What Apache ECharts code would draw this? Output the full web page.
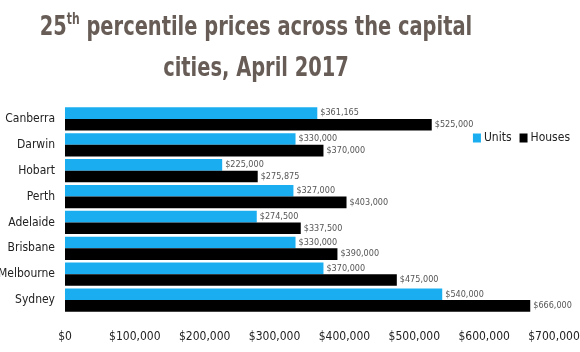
<!DOCTYPE html>
<html>
<head>
<meta charset="utf-8">
<script src="https://cdn.jsdelivr.net/npm/echarts@6/dist/echarts.min.js"></script>
<style>
  html, body { margin: 0; padding: 0; background: #fff; }
  #chart { width: 580px; height: 352px; }
</style>
</head>
<body>
<div id="chart"></div>
<script>
  // data (Sydney at the bottom)
  var cities = ['Sydney', 'Melbourne', 'Brisbane', 'Adelaide', 'Perth', 'Hobart', 'Darwin', 'Canberra']
  var units = [540000, 370000, 330000, 274500, 327000, 225000, 330000, 361165]
  var houses = [666000, 475000, 390000, 337500, 403000, 275875, 370000, 525000]
  var xTicks = [0, 100000, 200000, 300000, 400000, 500000, 600000, 700000]

  var narrow = "'DejaVu Sans Condensed', Roboto, sans-serif"
  var titleColor = '#675c56'

  function money(v) {
    return '$' + v.toLocaleString('en-US')
  }

  var chart = echarts.init(document.getElementById('chart'))
  var option = {
    animation: false,
    // title drawn as squeezed text so it looks like the narrow bold face
    graphic: [{
      type: 'text',
      x: 256,
      y: 7,
      scaleX: 0.8,
      style: {
        text: '{a|25}{sup|th}{a| percentile prices across the capital}\n{a|cities, April 2017}',
        align: 'center',
        rich: {
          a: { fontSize: 27, fontWeight: 'bold', fill: titleColor, fontFamily: narrow, lineHeight: 41 },
          sup: { fontSize: 15, fontWeight: 'bold', fill: titleColor, fontFamily: narrow, verticalAlign: 'top', lineHeight: 15, padding: [6, 0, 0, 0] }
        }
      }
    }],
    legend: {
      data: ['Units', 'Houses'],
      right: 5,
      top: 127,
      itemWidth: 8,
      itemHeight: 9,
      itemGap: 8,
      icon: 'rect',
      textStyle: { fontSize: 12, color: '#222', fontFamily: narrow, padding: [0, 0, 0, -2] }
    },
    grid: {
      left: 65,
      right: 26,
      top: 106,
      bottom: 39,
      outerBoundsMode: 'none',
      containLabel: false
    },
    xAxis: {
      type: 'value',
      min: 0,
      max: xTicks[xTicks.length - 1],
      interval: xTicks[1] - xTicks[0],
      axisLine: { show: false },
      axisTick: { show: false },
      splitLine: { show: false },
      axisLabel: {
        margin: 18,
        fontSize: 12,
        color: '#222',
        fontFamily: narrow,
        formatter: function (v) { return money(v) }
      }
    },
    yAxis: {
      type: 'category',
      data: cities,
      axisLine: { show: false },
      axisTick: { show: false },
      axisLabel: { fontSize: 12, color: '#222', fontFamily: narrow, margin: 10 }
    },
    series: [
      {
        name: 'Units',
        type: 'bar',
        data: units,
        barGap: '0%',
        barCategoryGap: '10%',
        itemStyle: { color: '#1aaef0' },
        label: {
          show: true, position: 'right', distance: 3,
          fontSize: 9, color: '#555', fontFamily: narrow,
          formatter: function (p) { return money(p.value) }
        }
      },
      {
        name: 'Houses',
        type: 'bar',
        data: houses,
        barGap: '0%',
        barCategoryGap: '10%',
        itemStyle: { color: '#000' },
        label: {
          show: true, position: 'right', distance: 3,
          fontSize: 9, color: '#555', fontFamily: narrow,
          formatter: function (p) { return money(p.value) }
        }
      }
    ]
  }
  chart.setOption(option)
</script>
</body>
</html>
